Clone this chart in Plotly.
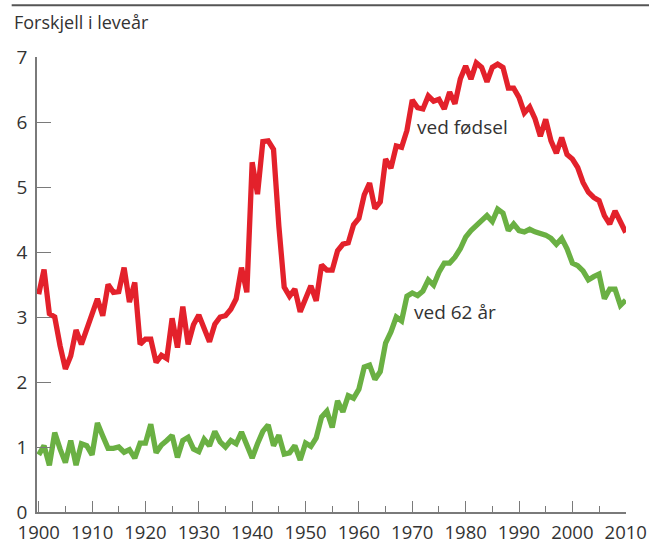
import plotly.graph_objects as go

years = list(range(1900, 2011))

ved_fodsel = [
    3.35, 3.73, 3.05, 3.00, 2.56, 2.20, 2.40, 2.80, 2.58, 2.82,   # 1900-1909
    3.10, 3.28, 3.02, 3.50, 3.38, 3.39, 3.76, 3.23, 3.53, 2.58,   # 1910-1919
    2.66, 2.66, 2.30, 2.41, 2.36, 2.98, 2.53, 3.16, 2.58, 2.88,   # 1920-1929
    3.03, 2.82, 2.62, 2.89, 3.00, 3.02, 3.12, 3.28, 3.76, 3.38,   # 1930-1939
    5.38, 4.89, 5.70, 5.71, 5.58, 4.40, 3.46, 3.32, 3.43, 3.08,   # 1940-1949
    3.30, 3.48, 3.25, 3.80, 3.72, 3.72, 4.02, 4.12, 4.14, 4.42,   # 1950-1959
    4.52, 4.88, 5.06, 4.67, 4.77, 5.43, 5.29, 5.63, 5.61, 5.87,   # 1960-1969
    6.34, 6.22, 6.20, 6.40, 6.32, 6.35, 6.20, 6.46, 6.28, 6.66,   # 1970-1979
    6.86, 6.66, 6.91, 6.84, 6.62, 6.84, 6.89, 6.84, 6.52, 6.52,   # 1980-1989
    6.38, 6.14, 6.23, 6.05, 5.78, 6.04, 5.71, 5.52, 5.76, 5.50,   # 1990-1999
    5.43, 5.30, 5.07, 4.92, 4.84, 4.79, 4.56, 4.43, 4.63, 4.45,   # 2000-2009
    4.30,                                                         # 2010
]

ved_62_aar = [
    0.88, 1.02, 0.72, 1.22, 0.97, 0.76, 1.10, 0.72, 1.05, 1.02,   # 1900-1909
    0.88, 1.37, 1.17, 0.98, 0.98, 1.00, 0.92, 0.96, 0.83, 1.06,   # 1910-1919
    1.06, 1.35, 0.91, 1.03, 1.10, 1.18, 0.84, 1.10, 1.15, 0.97,   # 1920-1929
    0.93, 1.12, 1.02, 1.24, 1.08, 1.00, 1.10, 1.05, 1.23, 1.05,   # 1930-1939
    0.83, 1.05, 1.24, 1.34, 1.02, 1.18, 0.89, 0.91, 1.02, 0.80,   # 1940-1949
    1.06, 1.01, 1.14, 1.46, 1.55, 1.30, 1.71, 1.54, 1.79, 1.75,   # 1950-1959
    1.89, 2.23, 2.26, 2.04, 2.16, 2.60, 2.77, 3.00, 2.94, 3.32,   # 1960-1969
    3.37, 3.33, 3.40, 3.57, 3.49, 3.69, 3.83, 3.83, 3.92, 4.05,   # 1970-1979
    4.23, 4.33, 4.41, 4.48, 4.56, 4.47, 4.66, 4.60, 4.33, 4.43,   # 1980-1989
    4.33, 4.31, 4.35, 4.31, 4.29, 4.26, 4.21, 4.12, 4.21, 4.05,   # 1990-1999
    3.83, 3.79, 3.71, 3.57, 3.62, 3.66, 3.28, 3.43, 3.43, 3.18,   # 2000-2009
    3.26,                                                         # 2010
]

x_ticks = list(range(1900, 2011, 10))
y_ticks = list(range(0, 8))

RED = "#E3212B"
GREEN = "#6AB043"
TEXT = "#333333"
AXIS = "#7a7a7a"
FONT = "Open Sans"

W, H = 649, 545
L, R = 37.3, 625.9
T, B = 57.3, 512.3
pw, ph = R - L, B - T

fig = go.Figure()
fig.add_trace(go.Scatter(x=years, y=ved_fodsel, mode="lines",
                         line=dict(color=RED, width=5.3), showlegend=False,
                         hoverinfo="skip"))
fig.add_trace(go.Scatter(x=years, y=ved_62_aar, mode="lines",
                         line=dict(color=GREEN, width=5.3), showlegend=False,
                         hoverinfo="skip"))

fig.add_annotation(x=1970.6, y=5.93, xref="x", yref="y", text="ved fødsel",
                   showarrow=False, xanchor="left", yanchor="middle",
                   font=dict(family=FONT, size=19, color=TEXT))
fig.add_annotation(x=1969.9, y=3.07, xref="x", yref="y", text="ved 62 år",
                   showarrow=False, xanchor="left", yanchor="middle",
                   font=dict(family=FONT, size=19, color=TEXT))

fig.add_annotation(x=(12 - L) / pw, y=(B - 22) / ph,
                   xref="paper", yref="paper",
                   text="Forskjell i leveår", showarrow=False,
                   xanchor="left", yanchor="middle",
                   font=dict(family=FONT, size=18, color=TEXT))

fig.add_shape(type="line", xref="paper", yref="paper",
              x0=(12 - L) / pw, x1=(W - L) / pw,
              y0=(B - 5.5) / ph, y1=(B - 5.5) / ph,
              line=dict(color="#555555", width=2))

fig.update_layout(
    width=W, height=H,
    margin=dict(l=L, r=W - R, t=T, b=H - B, pad=0, autoexpand=False),
    paper_bgcolor="white", plot_bgcolor="white",
    font=dict(family=FONT, size=19, color=TEXT),
    xaxis=dict(range=[1899.68, 2010.05], tickmode="array", tickvals=x_ticks,
               ticktext=[str(v) for v in x_ticks], automargin=False,
               showgrid=False, zeroline=False, showline=True,
               linecolor=AXIS, linewidth=1.5,
               ticks="inside", ticklen=11, tickwidth=1.3, tickcolor=AXIS,
               ticklabelstandoff=3,
               minor=dict(dtick=5, tick0=1900, ticks="inside", ticklen=6,
                          tickwidth=1.3, tickcolor=AXIS, showgrid=False),
               tickfont=dict(family=FONT, size=18.5, color=TEXT)),
    yaxis=dict(range=[0, 7], tickmode="array", tickvals=y_ticks, automargin=False,
               showgrid=False, zeroline=False, showline=True,
               linecolor=AXIS, linewidth=1.5,
               ticks="inside", ticklen=14, tickwidth=1.3, tickcolor=AXIS,
               ticklabelstandoff=4,
               tickfont=dict(family=FONT, size=19, color=TEXT)),
)

fig.write_html(
    "out.html",
    config={"displayModeBar": False},
    post_script="document.body.style.margin='0px';document.body.style.padding='0px';",
)
